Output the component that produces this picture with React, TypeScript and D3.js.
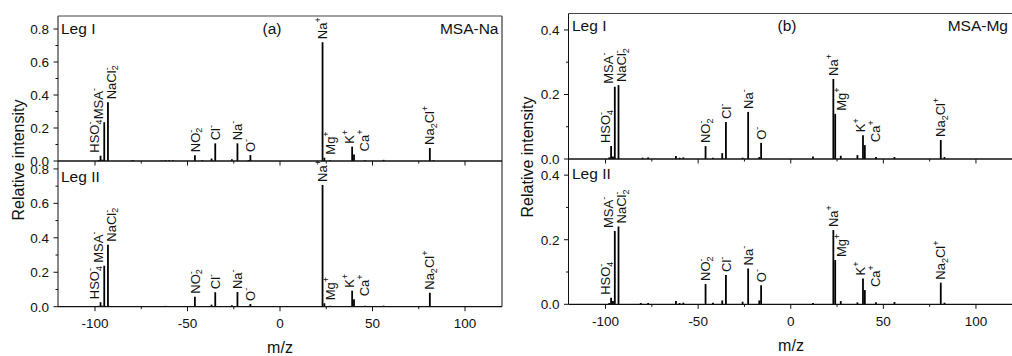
import React from "react"
import * as d3 from "d3"

// [m/z, relative intensity]
const naLegI: [number, number][] = [
  [-98, 0.006], [-97, 0.032], [-96, 0.008], [-95, 0.235], [-93, 0.356],
  [-80, 0.004], [-79, 0.003], [-64, 0.003], [-62, 0.005], [-60, 0.004], [-58, 0.005],
  [-46, 0.035], [-42, 0.005], [-37, 0.015], [-35, 0.107], [-26, 0.01], [-23, 0.107],
  [-17, 0.006], [-16, 0.036], [23, 0.72], [24, 0.02], [27, 0.005], [39, 0.087],
  [40, 0.04], [46, 0.004], [56, 0.007], [81, 0.079], [83, 0.005],
]
const naLegII: [number, number][] = [
  [-98, 0.005], [-97, 0.026], [-96, 0.006], [-95, 0.238], [-93, 0.36],
  [-80, 0.004], [-62, 0.005], [-60, 0.004], [-58, 0.004], [-46, 0.058], [-42, 0.004],
  [-37, 0.012], [-35, 0.084], [-26, 0.008], [-23, 0.085], [-17, 0.005], [-16, 0.016],
  [23, 0.707], [24, 0.02], [27, 0.005], [39, 0.093], [40, 0.043], [46, 0.005],
  [56, 0.006], [81, 0.081], [83, 0.004],
]
const mgLegI: [number, number][] = [
  [-98, 0.005], [-97, 0.04], [-96, 0.008], [-95, 0.224], [-93, 0.229],
  [-80, 0.004], [-77, 0.005], [-62, 0.009], [-60, 0.004], [-58, 0.005], [-46, 0.04],
  [-42, 0.004], [-37, 0.018], [-35, 0.115], [-26, 0.004], [-23, 0.146], [-17, 0.006],
  [-16, 0.05], [12, 0.008], [23, 0.248], [24, 0.14], [27, 0.01], [36, 0.012],
  [39, 0.074], [40, 0.043], [46, 0.006], [56, 0.006], [81, 0.059], [83, 0.006],
]
const mgLegII: [number, number][] = [
  [-98, 0.004], [-97, 0.02], [-96, 0.01], [-95, 0.227], [-93, 0.241],
  [-81, 0.004], [-77, 0.004], [-62, 0.01], [-60, 0.004], [-58, 0.005], [-46, 0.063],
  [-42, 0.005], [-37, 0.012], [-35, 0.091], [-26, 0.008], [-23, 0.111], [-17, 0.012],
  [-16, 0.059], [12, 0.004], [23, 0.23], [24, 0.137], [27, 0.01], [36, 0.006],
  [39, 0.08], [40, 0.044], [46, 0.006], [56, 0.007], [81, 0.067], [83, 0.005],
]

// "^x" = superscript, "_x" = subscript
const ionLabels: [string, number][] = [
  ["HSO^-_4", -97], ["MSA^-", -95], ["NaCl^-_2", -93], ["NO^-_2", -46],
  ["Cl^-", -35], ["Na^-", -23], ["O^-", -16],
  ["Na^+", 23], ["Mg^+", 24], ["K^+", 39], ["Ca^+", 40], ["Na_2Cl^+", 81],
]

const mzMajor = [-100, -50, 0, 50, 100]
const mzMinor = [-75, -25, 25, 75]
const naYMajor = [0, 0.2, 0.4, 0.6, 0.8]
const naYMinor = [0.1, 0.3, 0.5, 0.7]
const mgYMajor = [0, 0.2, 0.4]
const mgYMinor = [0.1, 0.3]

const FONT = "'Liberation Sans', Arial, sans-serif"
const INK = "#111"

// label nudges so neighbouring labels don't collide
const LABEL_DX: Record<string, number> = {
  "HSO^-_4": -6, "MSA^-": -6, "NaCl^-_2": 3, "Mg^+": 6, "K^+": -2.5, "Ca^+": 10.5,
}

function parseIon(s: string) {
  const parts: { t: string; k: "n" | "sup" | "sub" }[] = []
  let i = 0
  while (i < s.length) {
    const c = s[i]
    if (c === "^" || c === "_") {
      parts.push({ t: s[i + 1], k: c === "^" ? "sup" : "sub" })
      i += 2
    } else {
      const last = parts[parts.length - 1]
      if (last && last.k === "n") last.t += c
      else parts.push({ t: c, k: "n" })
      i++
    }
  }
  return parts
}

function IonLabel({ text, x, y }: { text: string; x: number; y: number }) {
  const parts = parseIon(text)
  let cur = 0
  return (
    <text
      transform={`translate(${x},${y}) rotate(-90)`}
      fontSize={13}
      fontFamily={FONT}
      fill={INK}
    >
      {parts.map((p, i) => {
        const target = p.k === "sup" ? -6 : p.k === "sub" ? 2.8 : 0
        const dy = target - cur
        cur = target
        const prev = parts[i - 1]
        const dx = p.k === "sub" && prev && prev.k === "sup" ? -(prev.t === "+" ? 5.2 : 3) : 0
        return (
          <tspan key={i} dy={dy} dx={dx} fontSize={p.k === "n" ? 13 : 9}>
            {p.t}
          </tspan>
        )
      })}
    </text>
  )
}

interface PanelProps {
  x0: number
  x1: number
  yTop: number
  yBottom: number
  yMax: number
  yMajor: number[]
  yMinor: number[]
  data: [number, number][]
  tickLabels: boolean
  topLine: boolean
}

function Panel({ x0, x1, yTop, yBottom, yMax, yMajor, yMinor, data, tickLabels, topLine }: PanelProps) {
  const x = d3.scaleLinear().domain([-120, 120]).range([x0, x1])
  const y = d3.scaleLinear().domain([0, yMax]).range([yBottom, yTop])
  const lookup = new Map(data.map((d) => [d[0], d[1]]))

  return (
    <g>
      {/* spectrum sticks */}
      {data.map(([mz, h], i) => (
        <line key={i} x1={x(mz)} x2={x(mz)} y1={y(0)} y2={y(h)} stroke="#000" strokeWidth={1.8} />
      ))}

      {/* peak labels */}
      {ionLabels.map(([ion, mz]) => (
        <IonLabel
          key={ion}
          text={ion}
          x={x(mz) + 4.6 + (LABEL_DX[ion] ?? 0)}
          y={y(lookup.get(mz) ?? 0) - 3}
        />
      ))}

      {/* frame */}
      <line x1={x0} x2={x0} y1={yTop} y2={yBottom} stroke={INK} />
      <line x1={x1} x2={x1} y1={yTop} y2={yBottom} stroke={INK} />
      <line x1={x0} x2={x1} y1={yBottom} y2={yBottom} stroke={INK} strokeWidth={1.3} />
      {topLine && <line x1={x0} x2={x1} y1={yTop} y2={yTop} stroke="#444" />}

      {/* x ticks */}
      {mzMajor.map((t) => (
        <line key={"xM" + t} x1={x(t)} x2={x(t)} y1={yBottom} y2={yBottom + 4.5} stroke={INK} />
      ))}
      {mzMinor.map((t) => (
        <line key={"xm" + t} x1={x(t)} x2={x(t)} y1={yBottom} y2={yBottom + 2.5} stroke={INK} />
      ))}
      {tickLabels &&
        mzMajor.map((t) => (
          <text key={"xl" + t} x={x(t)} y={yBottom + 21.3} textAnchor="middle" fontSize={13.5} fontFamily={FONT} fill={INK}>
            {t}
          </text>
        ))}

      {/* y ticks */}
      {yMajor.map((t) => (
        <g key={"yM" + t}>
          <line x1={x0 - 4.5} x2={x0} y1={y(t)} y2={y(t)} stroke={INK} />
          <text x={x0 - 9} y={y(t)} dy="0.36em" textAnchor="end" fontSize={13.5} fontFamily={FONT} fill={INK}>
            {d3.format(".1f")(t)}
          </text>
        </g>
      ))}
      {yMinor.map((t) => (
        <line key={"ym" + t} x1={x0 - 2.5} x2={x0} y1={y(t)} y2={y(t)} stroke={INK} />
      ))}
    </g>
  )
}

function Txt({ x, y, anchor = "start", size = 15.5, children }: { x: number; y: number; anchor?: string; size?: number; children: React.ReactNode }) {
  return (
    <text x={x} y={y} textAnchor={anchor} fontSize={size} fontFamily={FONT} fill={INK}>
      {children}
    </text>
  )
}

export default function App() {
  return (
    <svg
      width={1012}
      height={356}
      style={{ position: "absolute", left: 0, top: 0, background: "#fff" }}
    >
      {/* (a) MSA-Na */}
      <Panel x0={58} x1={502} yTop={16} yBottom={161} yMax={0.879} yMajor={naYMajor} yMinor={naYMinor} data={naLegI} tickLabels={false} topLine />
      <Panel x0={58} x1={502} yTop={161} yBottom={306.7} yMax={0.846} yMajor={naYMajor} yMinor={naYMinor} data={naLegII} tickLabels topLine={false} />
      <Txt x={61} y={33.5}>Leg I</Txt>
      <Txt x={61} y={182}>Leg II</Txt>
      <Txt x={272} y={33.5} anchor="middle">(a)</Txt>
      <Txt x={498.5} y={33.5} anchor="end">MSA-Na</Txt>
      <text transform="translate(23.5,160) rotate(-90)" textAnchor="middle" fontSize={16} fontFamily={FONT} fill={INK}>
        Relative intensity
      </text>
      <Txt x={280} y={352.5} anchor="middle" size={16}>m/z</Txt>

      {/* (b) MSA-Mg */}
      <Panel x0={568.5} x1={1013} yTop={13.5} yBottom={159} yMax={0.451} yMajor={mgYMajor} yMinor={mgYMinor} data={mgLegI} tickLabels={false} topLine />
      <Panel x0={568.5} x1={1013} yTop={159} yBottom={304.3} yMax={0.45} yMajor={mgYMajor} yMinor={mgYMinor} data={mgLegII} tickLabels topLine={false} />
      <Txt x={572} y={30.5}>Leg I</Txt>
      <Txt x={572} y={178.5}>Leg II</Txt>
      <Txt x={787} y={30.5} anchor="middle">(b)</Txt>
      <Txt x={1008} y={30.5} anchor="end">MSA-Mg</Txt>
      <text transform="translate(533,157) rotate(-90)" textAnchor="middle" fontSize={16} fontFamily={FONT} fill={INK}>
        Relative intensity
      </text>
      <Txt x={791} y={350.5} anchor="middle" size={16}>m/z</Txt>
    </svg>
  )
}
